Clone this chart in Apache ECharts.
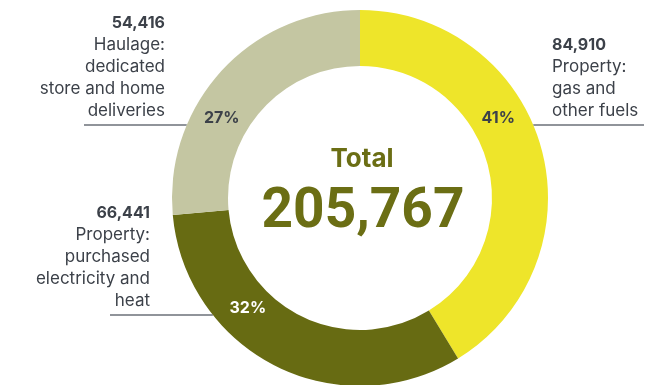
<!DOCTYPE html>
<html><head><meta charset="utf-8">
<script src="https://cdn.jsdelivr.net/npm/echarts@6/dist/echarts.min.js"></script>
<style>html,body{margin:0;padding:0;background:#fff}#c{width:660px;height:385px}</style>
</head><body><div id="c"></div><script>
// ---- data ----
const categories = ['Property:\ngas and\nother fuels', 'Property:\npurchased\nelectricity and\nheat', 'Haulage:\ndedicated\nstore and home\ndeliveries'];
const values = [84910, 66441, 54416];
const totalTitle = 'Total';

// ---- styles / layout ----
const colors = ['#EEE52A', '#676B12', '#C4C6A2'];
const pctColors = ['#3C4149', '#FFFFFF', '#3C4149'];
const textColor = '#3C4149';
const olive = '#6B6E14';
const CX = 360, CY = 198, R_OUT = 188, R_IN = 132;
const leaderY = [125, 315, 125];
const side = [1, -1, -1];        // 1 = right of ring, -1 = left
const textX = [552, 150, 165];
const lineEndX = [644, 110, 84];
const FONT = 'Inter, "Noto Sans", sans-serif';

const fmt = v => v.toLocaleString('en-US');
const edgeX = i => CX + side[i] * Math.sqrt(R_OUT * R_OUT - (leaderY[i] - CY) * (leaderY[i] - CY));
const total = values.reduce((a, b) => a + b, 0);

// whole-number percentages that sum to 100 (largest remainder)
const rawPct = values.map(v => v / total * 100);
const pct = rawPct.map(Math.floor);
let rest = 100 - pct.reduce((a, b) => a + b, 0);
rawPct.map((p, i) => [p - Math.floor(p), i]).sort((a, b) => b[0] - a[0])
  .forEach(([, i]) => { if (rest > 0) { pct[i]++; rest--; } });

const chart = echarts.init(document.getElementById('c'), null, {renderer: 'canvas'});
chart.setOption({
  animation: false,
  backgroundColor: '#fff',
  graphic: [
    {type: 'text', x: 362, y: 159, style: {text: totalTitle, font: 'bold 26px ' + FONT, fill: olive, align: 'center', verticalAlign: 'middle'}},
    {type: 'text', x: 363, y: 213, style: {text: fmt(total), font: 'bold 55px Roboto, ' + FONT, fill: olive, align: 'center', verticalAlign: 'middle'}}
  ],
  series: [
    {
      type: 'pie', center: [CX, CY], radius: [R_IN, R_OUT], startAngle: 90, clockwise: true,
      avoidLabelOverlap: false, silent: true,
      data: values.map((v, i) => ({value: v, name: categories[i], itemStyle: {color: colors[i]},
        label: {align: side[i] > 0 ? 'left' : 'right'}})),
      label: {
        show: true, position: 'outside',
        formatter: p => '{v|' + fmt(p.value) + '}\n' + p.name.split('\n').map(s => '{n|' + s + '}').join('\n'),
        rich: {
          v: {fontFamily: FONT, fontWeight: 700, fontSize: 16, lineHeight: 22, color: textColor},
          n: {fontFamily: FONT, fontWeight: 400, fontSize: 17, lineHeight: 22, color: textColor}
        }
      },
      labelLine: {show: true, lineStyle: {color: '#6B7078', width: 1.5}},
      labelLayout: p => {
        const i = p.dataIndex;
        const ex = edgeX(i);
        return {
          x: textX[i], y: leaderY[i] - 3,
          align: side[i] > 0 ? 'left' : 'right', verticalAlign: 'bottom',
          labelLinePoints: [[ex, leaderY[i]], [(ex + lineEndX[i]) / 2, leaderY[i]], [lineEndX[i], leaderY[i]]]
        };
      }
    },
    {
      type: 'pie', center: [CX, CY], radius: [R_IN, R_OUT], startAngle: 90, clockwise: true,
      avoidLabelOverlap: false, silent: true,
      data: values.map((v, i) => ({value: v, name: categories[i], itemStyle: {color: 'rgba(0,0,0,0)'},
        label: {color: pctColors[i]}})),
      label: {
        show: true, position: 'inside',
        formatter: p => pct[p.dataIndex] + '%',
        fontFamily: FONT, fontWeight: 700, fontSize: 16
      },
      labelLine: {show: false},
      labelLayout: p => {
        const i = p.dataIndex;
        return {x: edgeX(i) - side[i] * 35, y: leaderY[i] - 7, align: 'center', verticalAlign: 'middle'};
      }
    }
  ]
});
</script></body></html>
